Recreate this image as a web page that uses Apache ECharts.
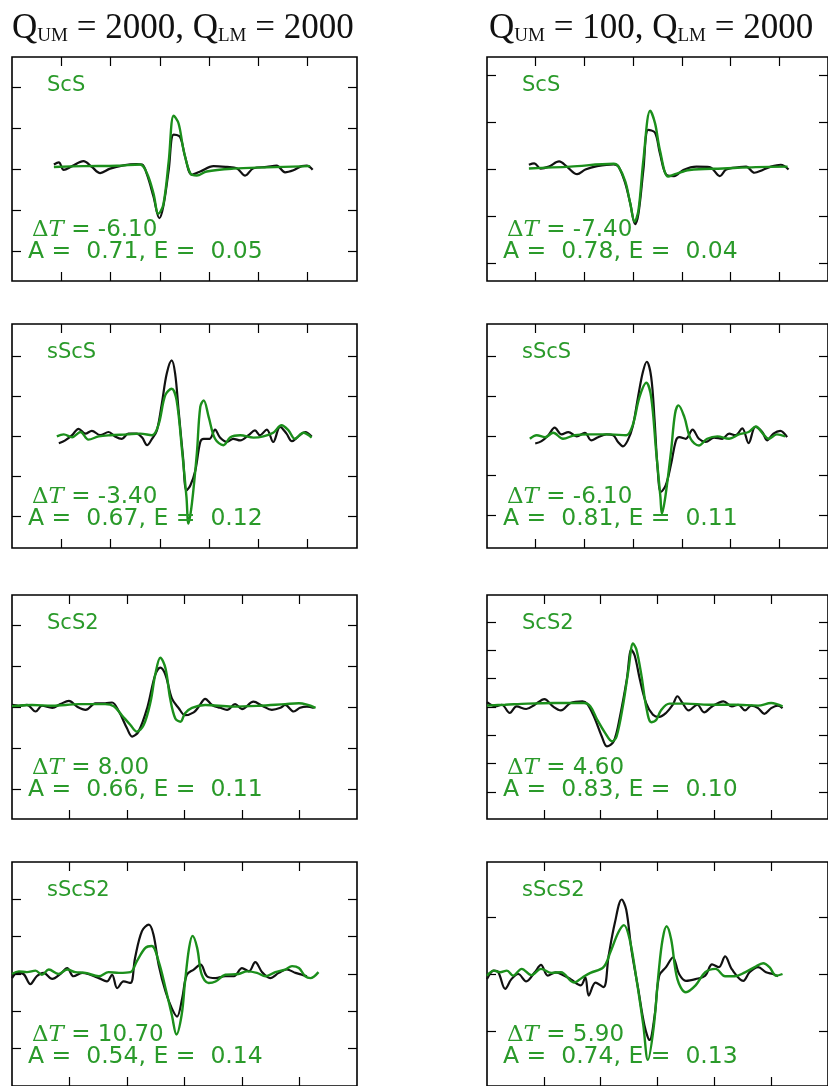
<!DOCTYPE html>
<html><head><meta charset="utf-8">
<script src="https://cdn.jsdelivr.net/npm/echarts@6/dist/echarts.min.js"></script>
<style>html,body{margin:0;padding:0;background:#fff}#c{width:828px;height:1086px}</style>
</head><body><div id="c"></div>
<script>
// ---------- data ----------
const qUM = [2000, 100];
const qLM = [2000, 2000];
const phases = ['ScS', 'sScS', 'ScS2', 'sScS2'];
const dTLeft  = [-6.10, -3.40, 8.00, 10.70];
const dTRight = [-7.40, -6.10, 4.60, 5.90];
const ampLeft  = [0.71, 0.67, 0.66, 0.54];
const ampRight = [0.78, 0.81, 0.83, 0.74];
const errLeft  = [0.05, 0.12, 0.11, 0.14];
const errRight = [0.04, 0.11, 0.10, 0.13];
const xSpanRow  = [7, 7, 6, 6];
const xTicksRow = [[1,2,3,4,5,6],[1,2,3,4,5,6],[1,2,3,4,5],[1,2,3,4,5]];
const yLimLeft  = [2.73, 2.8, 2.73, 3.0];
const yLimRight = [2.38, 2.82, 3.95, 1.97];
const yTicksLeft  = [[-2,-1,0,1,2],[-2,-1,0,1,2],[-2,-1,0,1,2],[-2,-1,0,1,2]];
const yTicksRight = [[-2,-1,0,1,2],[-2,-1,0,1,2],[-3,-2,-1,0,1,2,3],[-1,0,1]];

// observed (black) and synthetic (green) traces, [time, amplitude]
const scsLeftObs = [[0.85,0.11],[0.95,0.16],[1.05,-0.02],[1.22,0.07],[1.45,0.19],[1.62,0.05],[1.79,-0.10],[1.99,0.01],[2.26,0.09],[2.53,0.12],[2.64,0.11],[2.74,-0.14],[2.87,-0.67],[2.99,-1.20],[3.07,-0.91],[3.18,-0.02],[3.28,0.84],[3.41,0.78],[3.51,0.31],[3.65,-0.14],[3.82,-0.06],[4.09,0.07],[4.36,0.05],[4.56,0.02],[4.73,-0.16],[4.90,0.02],[5.17,0.05],[5.37,0.08],[5.54,-0.08],[5.71,-0.03],[5.88,0.07],[5.98,0.08],[6.10,-0.02]];
const scsLeftSyn = [[0.85,0.05],[1.45,0.07],[2.13,0.08],[2.60,0.11],[2.74,-0.11],[2.87,-0.59],[2.97,-1.09],[3.07,-0.87],[3.18,0.19],[3.28,1.30],[3.38,1.11],[3.48,0.47],[3.62,-0.11],[3.75,-0.16],[3.95,-0.06],[4.49,0.01],[5.17,0.04],[6.05,0.07]];
const scsRightObs = [[0.86,0.09],[0.97,0.12],[1.10,0.01],[1.27,0.05],[1.48,0.16],[1.65,0.04],[1.85,-0.11],[2.02,-0.01],[2.26,0.06],[2.60,0.10],[2.70,0.05],[2.84,-0.31],[2.94,-0.73],[3.04,-1.17],[3.11,-0.94],[3.21,-0.02],[3.31,0.83],[3.45,0.77],[3.55,0.33],[3.69,-0.13],[3.84,-0.15],[4.03,-0.02],[4.30,0.05],[4.57,0.04],[4.78,-0.15],[4.91,-0.01],[5.18,0.04],[5.32,0.05],[5.49,-0.08],[5.66,-0.02],[5.83,0.05],[6.03,0.09],[6.19,-0.01]];
const scsRightSyn = [[0.86,0.01],[1.71,0.05],[2.60,0.11],[2.70,0.05],[2.84,-0.27],[2.94,-0.73],[3.03,-1.12],[3.11,-0.87],[3.21,0.19],[3.35,1.24],[3.45,0.97],[3.55,0.40],[3.72,-0.16],[3.86,-0.11],[4.16,-0.02],[4.84,0.01],[5.52,0.04],[6.17,0.05]];
const sscsLeftObs = [[0.95,-0.18],[1.08,-0.11],[1.22,0.02],[1.35,0.18],[1.49,0.06],[1.62,0.13],[1.79,0.02],[1.96,0.10],[2.09,-0.01],[2.23,-0.07],[2.36,0.06],[2.53,0.06],[2.64,-0.04],[2.74,-0.23],[2.84,-0.07],[2.94,0.14],[3.04,0.81],[3.14,1.56],[3.24,1.89],[3.31,1.56],[3.38,0.64],[3.47,-0.53],[3.54,-1.36],[3.62,-1.23],[3.72,-0.86],[3.82,-0.15],[3.89,-0.07],[4.01,-0.07],[4.12,0.16],[4.22,-0.04],[4.36,-0.15],[4.49,-0.07],[4.63,-0.11],[4.80,0.02],[4.93,0.14],[5.03,0.02],[5.17,0.16],[5.30,-0.15],[5.44,0.23],[5.57,0.06],[5.68,-0.13],[5.81,-0.01],[5.95,0.10],[6.08,-0.01]];
const sscsLeftSyn = [[0.91,-0.01],[1.05,0.04],[1.22,-0.03],[1.39,0.10],[1.55,-0.09],[1.76,-0.01],[1.99,0.02],[2.33,0.04],[2.60,0.06],[2.84,0.02],[2.97,0.27],[3.11,1.02],[3.24,1.18],[3.34,0.89],[3.45,-0.36],[3.54,-1.53],[3.58,-2.19],[3.65,-1.69],[3.75,-0.44],[3.82,0.73],[3.89,0.89],[3.99,0.48],[4.12,-0.07],[4.29,-0.23],[4.43,-0.03],[4.63,0.02],[4.90,-0.04],[5.10,-0.01],[5.30,0.08],[5.47,0.27],[5.61,0.14],[5.74,-0.07],[5.91,0.08],[6.08,-0.04]];
const sscsRightObs = [[0.99,-0.19],[1.12,-0.13],[1.26,0.02],[1.39,0.21],[1.53,0.04],[1.67,0.10],[1.84,-0.01],[2.01,0.08],[2.14,-0.11],[2.28,-0.03],[2.45,0.04],[2.59,0.02],[2.69,-0.15],[2.79,-0.26],[2.89,-0.11],[2.99,0.23],[3.10,0.98],[3.20,1.61],[3.28,1.87],[3.37,1.49],[3.44,0.40],[3.50,-0.78],[3.57,-1.41],[3.67,-1.24],[3.78,-0.70],[3.88,-0.11],[3.95,-0.03],[4.08,-0.07],[4.22,0.16],[4.35,-0.07],[4.49,-0.15],[4.66,-0.04],[4.83,-0.07],[4.97,0.06],[5.10,0.02],[5.24,0.19],[5.37,-0.18],[5.51,0.23],[5.65,0.10],[5.75,-0.11],[5.88,0.06],[6.02,0.13],[6.16,-0.03]];
const sscsRightSyn = [[0.88,-0.07],[1.02,0.02],[1.19,-0.03],[1.36,0.08],[1.56,-0.07],[1.80,0.02],[2.11,0.04],[2.52,0.04],[2.86,0.02],[2.99,0.27],[3.13,0.98],[3.27,1.34],[3.37,0.98],[3.47,-0.36],[3.56,-1.54],[3.59,-1.96],[3.66,-1.54],[3.78,-0.36],[3.86,0.56],[3.93,0.77],[4.05,0.48],[4.18,-0.07],[4.35,-0.24],[4.52,-0.07],[4.73,-0.01],[4.97,-0.07],[5.17,0.04],[5.37,0.10],[5.52,0.24],[5.65,0.08],[5.78,-0.07],[5.95,0.04],[6.12,-0.01]];
const scs2LeftObs = [[0.00,0.05],[0.12,0.03],[0.26,0.05],[0.41,-0.11],[0.52,0.03],[0.70,-0.02],[0.84,0.07],[0.99,0.15],[1.13,0.01],[1.28,-0.07],[1.45,0.09],[1.62,0.09],[1.74,0.11],[1.86,-0.11],[2.00,-0.52],[2.09,-0.72],[2.20,-0.60],[2.35,-0.03],[2.49,0.78],[2.58,0.96],[2.67,0.78],[2.78,0.21],[2.90,-0.03],[3.01,-0.20],[3.16,-0.13],[3.25,0.01],[3.36,0.20],[3.48,0.05],[3.62,-0.02],[3.74,-0.07],[3.88,0.07],[4.00,-0.05],[4.20,0.13],[4.35,0.03],[4.52,-0.07],[4.67,-0.02],[4.75,0.05],[4.90,-0.11],[5.01,-0.02],[5.13,0.01],[5.25,-0.02]];
const scs2LeftSyn = [[0.00,0.02],[0.35,0.05],[0.70,0.03],[1.16,0.07],[1.62,0.07],[1.77,0.02],[1.91,-0.20],[2.06,-0.44],[2.17,-0.60],[2.29,-0.44],[2.41,0.13],[2.49,0.78],[2.58,1.20],[2.67,0.94],[2.75,0.21],[2.84,-0.28],[2.93,-0.36],[3.01,-0.15],[3.13,-0.02],[3.36,0.05],[3.83,0.01],[4.29,0.03],[4.75,0.07],[4.99,0.09],[5.28,-0.02]];
const scs2RightObs = [[0.00,0.17],[0.15,0.02],[0.26,0.08],[0.40,-0.21],[0.52,0.02],[0.69,-0.07],[0.84,0.08],[1.01,0.28],[1.16,0.02],[1.30,-0.12],[1.47,0.14],[1.68,0.20],[1.76,0.12],[1.88,-0.33],[2.02,-1.04],[2.11,-1.39],[2.23,-1.21],[2.34,-0.33],[2.46,0.97],[2.54,2.02],[2.60,1.81],[2.69,0.97],[2.80,0.14],[2.92,-0.27],[3.03,-0.35],[3.15,-0.21],[3.27,0.08],[3.35,0.38],[3.44,0.14],[3.55,-0.12],[3.70,0.08],[3.82,-0.19],[3.96,0.02],[4.16,0.20],[4.31,0.02],[4.42,0.08],[4.54,-0.12],[4.65,0.05],[4.77,-0.04],[4.88,-0.24],[5.00,-0.04],[5.12,0.05],[5.20,-0.04]];
const scs2RightSyn = [[0.00,0.05],[0.32,0.08],[0.72,0.12],[1.18,0.14],[1.71,0.14],[1.82,0.02],[1.94,-0.45],[2.08,-0.92],[2.20,-1.21],[2.28,-1.04],[2.40,0.14],[2.49,1.32],[2.57,2.24],[2.63,2.02],[2.72,1.08],[2.80,0.02],[2.89,-0.54],[2.98,-0.45],[3.06,-0.12],[3.21,0.12],[3.50,0.12],[3.90,0.08],[4.36,0.08],[4.77,0.05],[5.00,0.14],[5.20,0.02]];
const sscs2LeftObs = [[0.00,-0.11],[0.09,0.03],[0.20,0.00],[0.32,-0.27],[0.43,-0.06],[0.55,0.03],[0.70,-0.13],[0.84,0.00],[0.96,0.16],[1.07,-0.06],[1.22,0.03],[1.36,-0.02],[1.51,-0.11],[1.65,-0.20],[1.74,-0.02],[1.83,-0.38],[1.94,-0.20],[2.06,-0.24],[2.14,0.43],[2.26,1.15],[2.38,1.32],[2.46,1.06],[2.55,0.25],[2.67,-0.47],[2.78,-0.92],[2.87,-1.14],[2.96,-0.65],[3.04,-0.02],[3.16,0.12],[3.28,0.25],[3.39,-0.06],[3.54,-0.11],[3.71,-0.06],[3.86,-0.06],[4.00,0.16],[4.12,0.07],[4.23,0.32],[4.35,0.05],[4.49,-0.11],[4.64,0.03],[4.78,0.12],[4.93,0.03],[5.04,-0.02],[5.13,-0.06]];
const sscs2LeftSyn = [[0.00,0.00],[0.12,0.07],[0.26,0.05],[0.41,0.09],[0.52,-0.02],[0.64,0.12],[0.81,0.00],[0.96,0.12],[1.10,0.05],[1.28,0.03],[1.51,-0.06],[1.68,0.05],[1.86,0.03],[2.06,0.05],[2.17,0.34],[2.32,0.70],[2.43,0.75],[2.55,0.34],[2.67,-0.38],[2.78,-1.10],[2.86,-1.62],[2.95,-1.10],[3.01,-0.20],[3.08,0.70],[3.14,1.02],[3.22,0.70],[3.30,-0.02],[3.42,-0.24],[3.54,-0.20],[3.71,-0.02],[3.94,0.00],[4.09,0.07],[4.26,0.03],[4.41,-0.06],[4.58,0.05],[4.75,0.12],[4.87,0.21],[4.99,0.16],[5.10,-0.06],[5.19,-0.11],[5.33,0.05]];
const sscs2RightObs = [[0.00,-0.09],[0.12,0.06],[0.20,0.03],[0.32,-0.26],[0.43,-0.09],[0.55,0.00],[0.69,-0.13],[0.84,0.03],[0.95,0.16],[1.07,-0.03],[1.21,0.03],[1.36,-0.03],[1.47,-0.09],[1.65,-0.20],[1.73,-0.06],[1.79,-0.38],[1.91,-0.15],[2.05,-0.23],[2.14,0.32],[2.25,0.90],[2.37,1.31],[2.45,1.13],[2.54,0.44],[2.66,-0.26],[2.77,-0.90],[2.86,-1.16],[2.95,-0.73],[3.03,-0.03],[3.15,0.12],[3.27,0.29],[3.38,0.00],[3.50,-0.12],[3.67,-0.09],[3.84,-0.03],[3.96,0.17],[4.08,0.12],[4.19,0.31],[4.31,0.08],[4.51,-0.12],[4.62,0.03],[4.77,0.12],[4.91,0.03],[5.03,0.00],[5.12,-0.04]];
const sscs2RightSyn = [[0.00,-0.03],[0.12,0.06],[0.23,0.03],[0.35,0.06],[0.46,-0.03],[0.61,0.09],[0.78,-0.02],[0.95,0.09],[1.13,0.02],[1.30,0.03],[1.53,-0.15],[1.68,-0.06],[1.82,0.02],[2.05,0.12],[2.17,0.38],[2.31,0.73],[2.41,0.86],[2.51,0.61],[2.63,-0.09],[2.75,-0.90],[2.83,-1.51],[2.93,-0.96],[3.02,0.03],[3.09,0.61],[3.16,0.84],[3.24,0.61],[3.35,-0.09],[3.50,-0.32],[3.67,-0.20],[3.84,0.03],[4.02,0.09],[4.19,-0.04],[4.36,-0.04],[4.54,0.03],[4.71,0.12],[4.86,0.19],[4.97,0.12],[5.09,-0.03],[5.20,0.00]];

const obsLeft  = [scsLeftObs, sscsLeftObs, scs2LeftObs, sscs2LeftObs];
const synLeft  = [scsLeftSyn, sscsLeftSyn, scs2LeftSyn, sscs2LeftSyn];
const obsRight = [scsRightObs, sscsRightObs, scs2RightObs, sscs2RightObs];
const synRight = [scsRightSyn, sscsRightSyn, scs2RightSyn, sscs2RightSyn];

// ---------- layout / style ----------
const GREEN = '#1b8f1b';
const TEXT_GREEN = '#2a9a2a';
const BLACK = '#111111';
const colLeft = [12, 487];
const rowTop = [57, 324, 595, 862];
const W = 345, H = 224;

const grids = [], xAxes = [], yAxes = [], series = [], titles = [];

function tickCfg(vals) {
  return { show: true, inside: true, length: 9, customValues: vals, lineStyle: { color: '#000', width: 1.2 } };
}
function pad5(v) { const s = v.toFixed(2); return (' '.repeat(Math.max(0, 5 - s.length))) + s; }

let gi = 0;
for (let r = 0; r < 4; r++) {
  for (let c = 0; c < 2; c++) {
    const left = colLeft[c], top = rowTop[r];
    const lim = c === 0 ? yLimLeft[r] : yLimRight[r];
    const yT = c === 0 ? yTicksLeft[r] : yTicksRight[r];
    grids.push({ left: left, top: top, width: W, height: H, show: true, borderColor: '#000', borderWidth: 1.6, backgroundColor: 'transparent' });
    ['bottom', 'top'].forEach(p => xAxes.push({ type: 'value', gridIndex: gi, position: p, min: 0, max: xSpanRow[r],
      axisLine: { show: false, onZero: false }, axisLabel: { show: false }, splitLine: { show: false }, axisTick: tickCfg(xTicksRow[r]) }));
    ['left', 'right'].forEach(p => yAxes.push({ type: 'value', gridIndex: gi, position: p, min: -lim, max: lim,
      axisLine: { show: false, onZero: false }, axisLabel: { show: false }, splitLine: { show: false }, axisTick: tickCfg(yT) }));
    const obs = c === 0 ? obsLeft[r] : obsRight[r];
    const syn = c === 0 ? synLeft[r] : synRight[r];
    series.push({ type: 'line', xAxisIndex: 2 * gi, yAxisIndex: 2 * gi, data: obs, smooth: 0.35, symbol: 'none',
      lineStyle: { color: BLACK, width: 2.2 }, z: 2, silent: true });
    series.push({ type: 'line', xAxisIndex: 2 * gi, yAxisIndex: 2 * gi, data: syn, smooth: 0.35, symbol: 'none',
      lineStyle: { color: GREEN, width: 2.4 }, z: 3, silent: true });

    const dT = c === 0 ? dTLeft[r] : dTRight[r];
    const A = c === 0 ? ampLeft[r] : ampRight[r];
    const E = c === 0 ? errLeft[r] : errRight[r];
    titles.push({ left: left + 35, top: top + 18, padding: 0, text: phases[r],
      textStyle: { fontFamily: 'DejaVu Sans', fontSize: 21, fontWeight: 'normal', color: TEXT_GREEN, lineHeight: 22 } });
    titles.push({ left: left + 20, top: top + 161, padding: 0,
      text: '{d|\u0394}{t|T}{n| = ' + dT.toFixed(2) + '}',
      textStyle: { fontSize: 23, fontWeight: 'normal', lineHeight: 24, color: TEXT_GREEN, rich: {
        d: { fontFamily: 'DejaVu Serif', fontWeight: 'normal', fontSize: 23, color: TEXT_GREEN, lineHeight: 24 },
        t: { fontFamily: 'DejaVu Serif', fontWeight: 'normal', fontStyle: 'italic', fontSize: 23, color: TEXT_GREEN, lineHeight: 24 },
        n: { fontFamily: 'DejaVu Sans', fontWeight: 'normal', fontSize: 23, color: TEXT_GREEN, lineHeight: 24 } } } });
    titles.push({ left: left + 16, top: top + 183, padding: 0,
      text: 'A = ' + pad5(A) + ', E = ' + pad5(E),
      textStyle: { fontFamily: 'DejaVu Sans', fontSize: 23.5, fontWeight: 'normal', color: TEXT_GREEN, lineHeight: 24 } });
    gi++;
  }
}

const colTitleLeft = [12, 489];
for (let c = 0; c < 2; c++) {
  titles.push({ left: colTitleLeft[c], top: 10, padding: 0,
    text: '{q|Q}{s|UM}{q| = ' + qUM[c] + ', Q}{s|LM}{q| = ' + qLM[c] + '}',
    textStyle: { fontSize: 35, fontWeight: 'normal', rich: {
      q: { fontFamily: 'Liberation Serif', fontWeight: 'normal', fontSize: 35, color: '#111', lineHeight: 36, verticalAlign: 'bottom' },
      s: { fontFamily: 'Liberation Serif', fontWeight: 'normal', fontSize: 19, color: '#111', lineHeight: 30, verticalAlign: 'bottom' } } } });
}

const chart = echarts.init(document.getElementById('c'), null, { renderer: 'canvas' });
chart.setOption({
  animation: false,
  backgroundColor: '#fff',
  title: titles,
  grid: grids,
  xAxis: xAxes,
  yAxis: yAxes,
  series: series
});
</script></body></html>
